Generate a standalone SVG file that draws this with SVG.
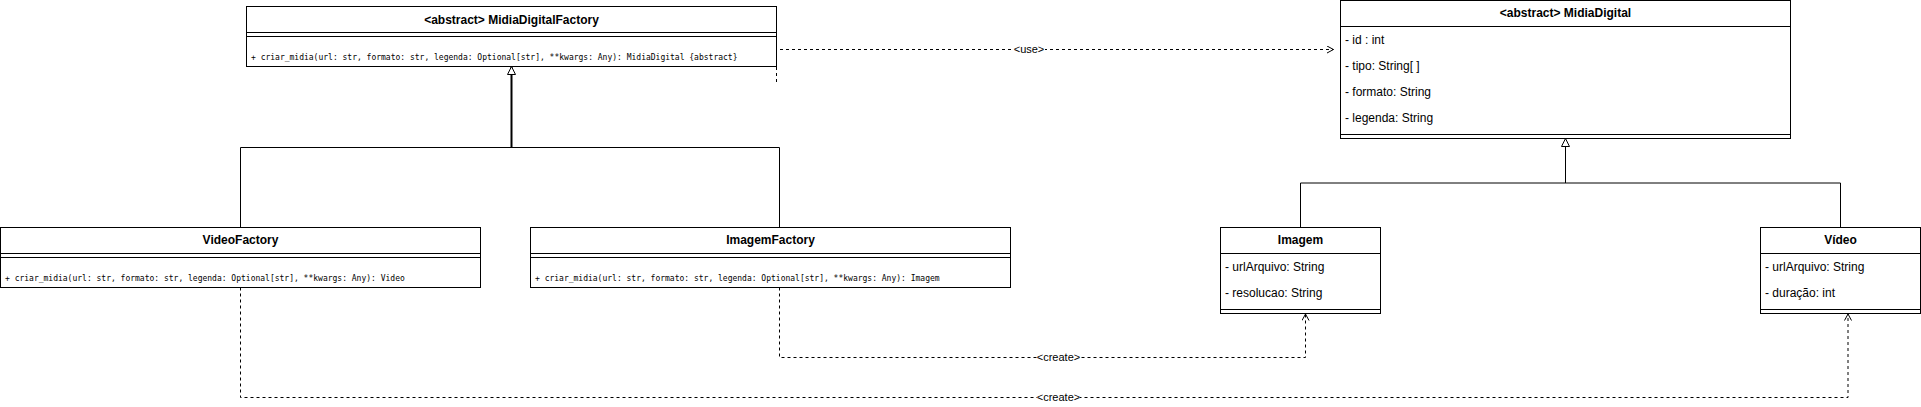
<svg xmlns="http://www.w3.org/2000/svg" width="1921" height="407" viewBox="0 0 1921 407">
<style>
.box{fill:#fff;stroke:#000;stroke-width:1}
.ln{stroke:#000;stroke-width:1;fill:none}
.title{font-family:"Liberation Sans",Arial,sans-serif;font-size:12px;font-weight:bold;text-anchor:middle;fill:#000}
.fld{font-family:"Liberation Sans",Arial,sans-serif;font-size:12px;fill:#000}
.mth{font-family:"DejaVu Sans Mono",monospace;font-size:8px;fill:#000}
.edge{stroke:#000;stroke-width:1;fill:none}
.dash{stroke-dasharray:3 3}
.lbl{font-family:"Liberation Sans",Arial,sans-serif;font-size:11px;text-anchor:middle;fill:#000}
</style>
<defs>
<marker id="open" markerUnits="userSpaceOnUse" viewBox="0 0 8 8" refX="7.5" refY="4" markerWidth="8" markerHeight="8" orient="auto">
<path d="M1,0.5 L7.5,4 L1,7.5" fill="none" stroke="#000" stroke-width="1"/>
</marker>
<marker id="tri" markerUnits="userSpaceOnUse" viewBox="0 0 10 10" refX="9" refY="5" markerWidth="10" markerHeight="10" orient="auto">
<path d="M1,1 L9,5 L1,9 Z" fill="#fff" stroke="#000" stroke-width="1"/>
</marker>
</defs>
<g id="connectors">
<path class="edge" d="M240.5 227.5 V147.5 H779.5 V227.5"/>
<path class="edge" style="stroke-width:2" d="M511.5 147.5 V66.5" marker-end="url(#tri)"/>
<path class="edge" d="M1300.5 227.5 V183 H1840.5 V227.5"/>
<path class="edge" d="M1565.5 183 V138.5" marker-end="url(#tri)"/>
<path class="edge dash" d="M776.5 82 V49.5 H1333.5" marker-end="url(#open)"/>
<path class="edge dash" d="M779.5 287.5 V357.5 H1305.5 V314" marker-end="url(#open)"/>
<path class="edge dash" d="M240.5 287.5 V397.5 H1848 V314" marker-end="url(#open)"/>
<rect x="1013" y="43" width="32" height="13" fill="#fff"/>
<text class="lbl" x="1029" y="53">&lt;use&gt;</text>
<rect x="1037" y="351" width="43" height="13" fill="#fff"/>
<text class="lbl" x="1058.5" y="361">&lt;create&gt;</text>
<rect x="1037" y="391" width="43" height="13" fill="#fff"/>
<text class="lbl" x="1058.5" y="401">&lt;create&gt;</text>
</g>
<g id="MidiaDigitalFactory">
<rect class="box" x="246.5" y="6.5" width="530" height="60"/>
<line class="ln" x1="246.5" y1="32.5" x2="776.5" y2="32.5"/>
<line class="ln" x1="246.5" y1="36.5" x2="776.5" y2="36.5"/>
<text class="title" x="511.5" y="24">&lt;abstract&gt; MidiaDigitalFactory</text>
<text class="mth" x="251" y="60">+ criar_midia(url: str, formato: str, legenda: Optional[str], **kwargs: Any): MidiaDigital {abstract}</text>
</g>
<g id="MidiaDigital">
<rect class="box" x="1340.5" y="0.5" width="450" height="138"/>
<line class="ln" x1="1340.5" y1="26.5" x2="1790.5" y2="26.5"/>
<line class="ln" x1="1340.5" y1="134.5" x2="1790.5" y2="134.5"/>
<text class="title" x="1565.5" y="17">&lt;abstract&gt; MidiaDigital</text>
<text class="fld" x="1345" y="44">- id : int</text>
<text class="fld" x="1345" y="70">- tipo: String[ ]</text>
<text class="fld" x="1345" y="96">- formato: String</text>
<text class="fld" x="1345" y="122">- legenda: String</text>
</g>
<g id="VideoFactory">
<rect class="box" x="0.5" y="227.5" width="480" height="60"/>
<line class="ln" x1="0.5" y1="253.5" x2="480.5" y2="253.5"/>
<line class="ln" x1="0.5" y1="257.5" x2="480.5" y2="257.5"/>
<text class="title" x="240.5" y="244">VideoFactory</text>
<text class="mth" x="5" y="281">+ criar_midia(url: str, formato: str, legenda: Optional[str], **kwargs: Any): Video</text>
</g>
<g id="ImagemFactory">
<rect class="box" x="530.5" y="227.5" width="480" height="60"/>
<line class="ln" x1="530.5" y1="253.5" x2="1010.5" y2="253.5"/>
<line class="ln" x1="530.5" y1="257.5" x2="1010.5" y2="257.5"/>
<text class="title" x="770.5" y="244">ImagemFactory</text>
<text class="mth" x="535" y="281">+ criar_midia(url: str, formato: str, legenda: Optional[str], **kwargs: Any): Imagem</text>
</g>
<g id="Imagem">
<rect class="box" x="1220.5" y="227.5" width="160" height="86"/>
<line class="ln" x1="1220.5" y1="253.5" x2="1380.5" y2="253.5"/>
<line class="ln" x1="1220.5" y1="309.5" x2="1380.5" y2="309.5"/>
<text class="title" x="1300.5" y="244">Imagem</text>
<text class="fld" x="1225" y="271">- urlArquivo: String</text>
<text class="fld" x="1225" y="297">- resolucao: String</text>
</g>
<g id="Video">
<rect class="box" x="1760.5" y="227.5" width="160" height="86"/>
<line class="ln" x1="1760.5" y1="253.5" x2="1920.5" y2="253.5"/>
<line class="ln" x1="1760.5" y1="309.5" x2="1920.5" y2="309.5"/>
<text class="title" x="1840.5" y="244">Vídeo</text>
<text class="fld" x="1765" y="271">- urlArquivo: String</text>
<text class="fld" x="1765" y="297">- duração: int</text>
</g>
</svg>
